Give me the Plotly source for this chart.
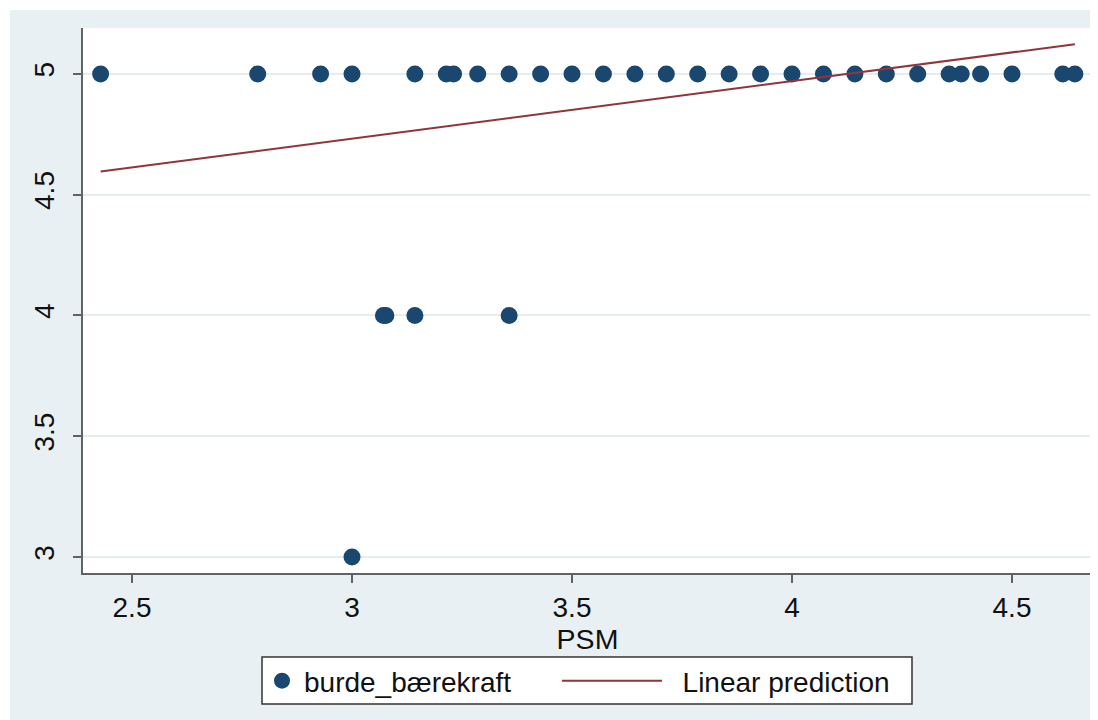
import plotly.graph_objects as go

# Data
psm = [2.4286, 2.7857, 2.9286, 3.0, 3.1429, 3.2143, 3.2308, 3.2857, 3.3571, 3.4286,
       3.5, 3.5714, 3.6429, 3.7143, 3.7857, 3.8571, 3.9286, 4.0, 4.0714, 4.1429,
       4.2143, 4.2857, 4.3571, 4.3846, 4.4286, 4.5, 4.6154, 4.6429,
       3.0714, 3.0769, 3.1429, 3.3571,
       3.0]
burde = [5] * 28 + [4] * 4 + [3]

lin_x = [2.4286, 4.6429]
lin_y = [4.596, 5.123]

x_ticks = [2.5, 3, 3.5, 4, 4.5]
x_ticklabels = ["2.5", "3", "3.5", "4", "4.5"]
y_ticks = [3, 3.5, 4, 4.5, 5]
y_ticklabels = ["3", "3.5", "4", "4.5", "5"]

FONT = "Liberation Sans, Arial, sans-serif"
BG = "#E9F0F3"
AXIS = "#5F6366"
TXT = "#111111"

# figure is drawn inside the page's default 8px body margin
W, H = 1090, 712
L, R, T, B = 75, 6, 20, 147
PW = W - L - R
PH = H - T - B


def px_x(px):
    return (px - L) / PW


def px_y(py):
    return (H - B - py) / PH


fig = go.Figure()
fig.add_trace(go.Scatter(
    x=psm, y=burde, mode="markers", name="burde_bærekraft",
    marker=dict(color="#1A476F", size=17, line=dict(width=0)),
    legend="legend",
))
fig.add_trace(go.Scatter(
    x=lin_x, y=lin_y, mode="lines", name="\u00a0\u00a0Linear prediction",
    line=dict(color="#90353B", width=2),
    legend="legend2",
))

legend_common = dict(
    orientation="h", yanchor="middle", y=px_y(673), xanchor="left",
    bgcolor="rgba(0,0,0,0)", borderwidth=0,
    font=dict(family=FONT, size=28, color=TXT),
)

fig.update_layout(
    width=W, height=H,
    margin=dict(l=L, r=R, t=T, b=B, autoexpand=False),
    paper_bgcolor=BG, plot_bgcolor="white",
    font=dict(family=FONT, size=28, color=TXT),
    showlegend=True,
    legend=dict(x=px_x(252), itemwidth=34, **legend_common),
    legend2=dict(x=px_x(549), itemwidth=100, **legend_common),
    shapes=[
        # white page border at top and left
        dict(type="rect", xref="paper", yref="paper", x0=-0.2, x1=1.1,
             y0=px_y(2), y1=1.2, fillcolor="white", line=dict(width=0), layer="below"),
        dict(type="rect", xref="paper", yref="paper", x0=-0.2, x1=px_x(2),
             y0=-0.4, y1=1.2, fillcolor="white", line=dict(width=0), layer="below"),
        # legend box
        dict(type="rect", xref="paper", yref="paper", x0=px_x(254), x1=px_x(904),
             y0=px_y(696), y1=px_y(649), fillcolor="white",
             line=dict(color="#333333", width=1.5), layer="below"),
    ],
)

fig.update_xaxes(
    range=[2.3886, 4.6818], tickvals=x_ticks, ticktext=x_ticklabels,
    showgrid=False, zeroline=False,
    showline=True, linecolor=AXIS, linewidth=2,
    ticks="outside", ticklen=8, tickwidth=2, tickcolor=AXIS,
    tickfont=dict(family=FONT, size=28, color=TXT),
    title=dict(text="PSM", font=dict(family=FONT, size=28.5, color=TXT), standoff=0),
)
fig.update_yaxes(
    range=[2.934, 5.190], tickvals=y_ticks, ticktext=y_ticklabels,
    showgrid=True, gridcolor="#E6EDF0", gridwidth=1.5, zeroline=False,
    showline=True, linecolor=AXIS, linewidth=2,
    ticks="outside", ticklen=8, tickwidth=2, tickcolor=AXIS,
    tickangle=-90, ticklabelstandoff=8,
    tickfont=dict(family=FONT, size=28, color=TXT),
)

fig.write_html("out.html")
